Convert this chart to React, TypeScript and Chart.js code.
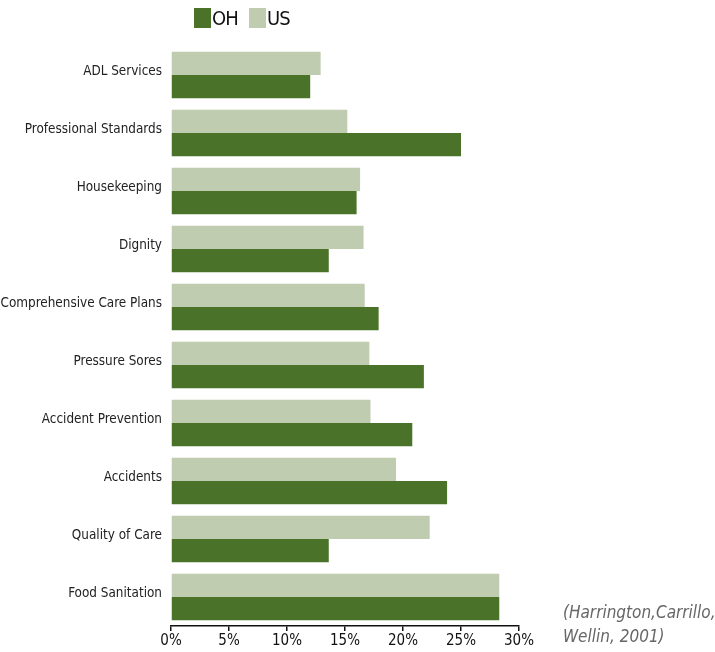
import React, { useEffect, useRef } from "react";
import { Chart, registerables } from "chart.js";

Chart.register(...registerables);

const categories = [
  "ADL Services",
  "Professional Standards",
  "Housekeeping",
  "Dignity",
  "Comprehensive Care Plans",
  "Pressure Sores",
  "Accident Prevention",
  "Accidents",
  "Quality of Care",
  "Food Sanitation",
];
const usValues = [12.9, 15.2, 16.3, 16.6, 16.7, 17.1, 17.2, 19.4, 22.3, 28.3];
const ohValues = [12.0, 25.0, 16.0, 13.6, 17.9, 21.8, 20.8, 23.8, 13.6, 28.3];
const xTicks = [0, 5, 10, 15, 20, 25, 30];

const OH_COLOR = "#4a7329";
const US_COLOR = "#bfccb0";
const FONT = "'DejaVu Sans Condensed', 'Liberation Sans Narrow', sans-serif";

export default function App() {
  const ref = useRef<HTMLCanvasElement | null>(null);

  useEffect(() => {
    if (!ref.current) return;
    const chart = new Chart(ref.current, {
      type: "bar",
      data: {
        labels: categories,
        datasets: [
          {
            label: "US",
            data: usValues,
            backgroundColor: US_COLOR,
            categoryPercentage: 0.8,
            barPercentage: 1,
          },
          {
            label: "OH",
            data: ohValues,
            backgroundColor: OH_COLOR,
            categoryPercentage: 0.8,
            barPercentage: 1,
          },
        ],
      },
      options: {
        indexAxis: "y",
        animation: false,
        responsive: false,
        maintainAspectRatio: false,
        layout: { padding: { top: 46, right: 196, left: 0, bottom: 0 } },
        plugins: {
          legend: { display: false },
          tooltip: { enabled: false },
        },
        scales: {
          x: {
            min: 0,
            max: 30,
            afterBuildTicks: (scale: any) => {
              scale.ticks = xTicks.map((v) => ({ value: v }));
            },
            afterFit: (scale: any) => {
              scale.height = 26;
            },
            grid: {
              display: true,
              drawOnChartArea: false,
              drawTicks: true,
              tickLength: 5,
              color: "#111",
              lineWidth: 1.5,
            },
            border: { display: true, color: "#111", width: 1.5 },
            ticks: {
              color: "#111",
              padding: 1,
              font: { family: FONT, size: 15 },
              callback: (v: any) => v + "%",
            },
          },
          y: {
            afterFit: (scale: any) => {
              scale.width = 171;
            },
            grid: { display: false, drawTicks: false },
            border: { display: false },
            ticks: {
              color: "#222",
              padding: 9,
              labelOffset: -3,
              font: { family: FONT, size: 13.4 },
            },
          },
        },
      },
    });
    return () => chart.destroy();
  }, []);

  const legendItem = (color: string, label: string, left: number) => (
    <div
      style={{
        position: "absolute",
        left,
        top: 5,
        height: 26,
        display: "flex",
        alignItems: "center",
        fontFamily: FONT,
        fontSize: 20,
        letterSpacing: -0.8,
        color: "#111",
      }}
    >
      <span
        style={{
          display: "inline-block",
          width: 17,
          height: 20,
          background: color,
          marginRight: 1,
        }}
      />
      <span>{label}</span>
    </div>
  );

  return (
    <div
      style={{
        position: "fixed",
        left: 0,
        top: 0,
        width: 715,
        height: 652,
        background: "#fff",
      }}
    >
      <canvas ref={ref} width={715} height={652} style={{ display: "block" }} />
      {legendItem(OH_COLOR, "OH", 194)}
      {legendItem(US_COLOR, "US", 249)}
      <div
        style={{
          position: "absolute",
          left: 563,
          top: 600,
          fontFamily: FONT,
          fontStyle: "italic",
          fontSize: 17,
          lineHeight: "24px",
          color: "#666",
          whiteSpace: "nowrap",
        }}
      >
        (Harrington,Carrillo,
        <br />
        Wellin, 2001)
      </div>
    </div>
  );
}
